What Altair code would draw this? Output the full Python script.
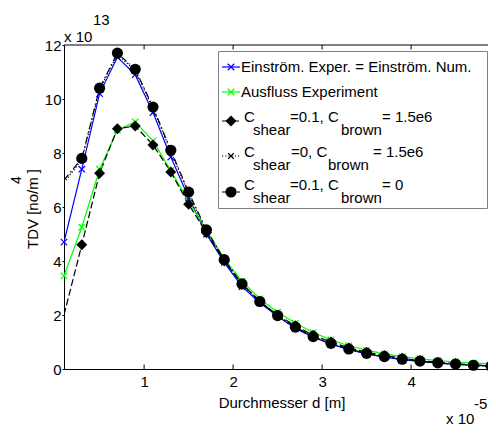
import altair as alt
import pandas as pd

# ---------------- data ----------------
D = [0.1, 0.3, 0.5, 0.7, 0.9, 1.1, 1.3, 1.5, 1.7, 1.9, 2.1, 2.3, 2.5,
     2.7, 2.9, 3.1, 3.3, 3.5, 3.7, 3.9, 4.1, 4.3, 4.5, 4.7, 4.9]

EINSTROEM = [4.7, 7.4, 10.2, 11.55, 10.9, 9.5, 7.85, 6.35, 5.0, 3.95, 3.05, 2.45, 1.95,
             1.5, 1.18, 0.92, 0.72, 0.56, 0.44, 0.35, 0.28, 0.22, 0.17, 0.14, 0.11]
AUSFLUSS = [3.45, 5.25, 7.4, 8.85, 9.15, 8.45, 7.35, 6.2, 5.15, 4.1, 3.25, 2.6, 2.1,
            1.7, 1.35, 1.08, 0.86, 0.7, 0.56, 0.46, 0.38, 0.31, 0.26, 0.22, 0.19]
S01_B15 = [2.0, 4.6, 7.25, 8.9, 9.0, 8.3, 7.3, 6.1, 5.05, 4.0, 3.15, 2.5, 2.0,
           1.6, 1.25, 1.0, 0.78, 0.62, 0.5, 0.4, 0.31, 0.25, 0.2, 0.15, 0.12]
S0_B15 = [6.9, 7.75, 10.35, 11.65, 11.05, 9.65, 8.05, 6.5, 5.1, 4.02, 3.12, 2.48, 1.96,
          1.53, 1.19, 0.94, 0.73, 0.57, 0.45, 0.36, 0.28, 0.22, 0.17, 0.13, 0.1]
S01_B0 = [7.0, 7.8, 10.4, 11.7, 11.1, 9.7, 8.1, 6.55, 5.15, 4.05, 3.15, 2.5, 1.98,
          1.55, 1.2, 0.95, 0.74, 0.58, 0.46, 0.36, 0.29, 0.23, 0.18, 0.14, 0.1]

X_TICKS = [1, 2, 3, 4]
Y_TICKS = [0, 2, 4, 6, 8, 10, 12]

LEG_SIMPLE = ["Einström. Exper. = Einström. Num.", "Ausfluss Experiment"]
LEG_C = ["C", "C", "C"]
LEG_MID = ["=0.1, C", "=0, C", "=0.1, C"]
LEG_END = ["= 1.5e6", "= 1.5e6", "= 0"]
LEG_SUB1 = "shear"
LEG_SUB2 = "brown"

FONT = "Liberation Sans"
FS = 15
W, H = 424, 324
XMAX = 0.1 + W / 89.0

xscale = alt.Scale(domain=[0.1, XMAX], nice=False, zero=False)
yscale = alt.Scale(domain=[0, 12], nice=False, zero=False)

one = pd.DataFrame({"k": [0]})
XPATH = "M-1,-1L1,1M-1,1L1,-1"

x_axis = alt.Axis(values=X_TICKS, format="d", title=None, grid=False, ticks=False,
                  domain=True, domainColor="black", domainWidth=1,
                  labelFont=FONT, labelFontSize=FS, labelColor="black", labelPadding=5)
y_axis = alt.Axis(values=Y_TICKS, format="d", title=None, grid=False, ticks=True,
                  tickSize=2, tickColor="black", domain=True, domainColor="black",
                  domainWidth=1, labelFont=FONT, labelFontSize=FS, labelColor="black",
                  labelPadding=1)


def X():
    return alt.X("d:Q", scale=xscale, axis=x_axis)


def Y():
    return alt.Y("v:Q", scale=yscale, axis=y_axis)


def sdf(vals):
    return pd.DataFrame({"d": D, "v": vals})


layers = []


def line(vals, color, dash=None, width=1.2):
    kw = dict(color=color, strokeWidth=width, clip=True)
    if dash:
        kw["strokeDash"] = dash
    return alt.Chart(sdf(vals)).mark_line(**kw).encode(x=X(), y=Y())


def pts(vals, shape, color, size, filled, start=0, sw=1.2):
    df = sdf(vals).iloc[start:]
    if filled:
        m = alt.Chart(df).mark_point(shape=shape, filled=True, fill=color, color=color,
                                     size=size, opacity=1, clip=False)
    else:
        m = alt.Chart(df).mark_point(shape=shape, filled=False, color=color, size=size,
                                     strokeWidth=sw, opacity=1, clip=False)
    return m.encode(x=X(), y=Y())


# data lines
layers.append(line(EINSTROEM, "#0000ff"))
layers.append(line(AUSFLUSS, "#00ff00"))
layers.append(line(S01_B15, "black", dash=[7, 3]))
layers.append(line(S0_B15, "black", dash=[1.2, 2]))
layers.append(line(S01_B0, "black", dash=[7, 3, 1.5, 3]))
# markers
layers.append(pts(EINSTROEM, XPATH, "#0000ff", 42, False))
layers.append(pts(AUSFLUSS, XPATH, "#00ff00", 42, False))
layers.append(pts(S01_B15, "diamond", "black", 120, True, start=1))
layers.append(pts(S0_B15, XPATH, "black", 30, False, start=1))
layers.append(pts(S01_B0, "circle", "black", 125, True, start=1))

# box: top border and inward ticks
layers.append(alt.Chart(one).mark_rule(color="black", strokeWidth=1).encode(
    x=alt.value(0), x2=alt.value(W), y=alt.value(0)))
xt = pd.DataFrame({"d": X_TICKS})
layers.append(alt.Chart(xt).mark_rule(color="black", strokeWidth=1).encode(
    x=X(), y=alt.value(0), y2=alt.value(4.5)))
layers.append(alt.Chart(xt).mark_rule(color="black", strokeWidth=1).encode(
    x=X(), y=alt.value(H), y2=alt.value(H - 4.5)))


def txt(s, x, y, size=FS, align="left", angle=0, baseline="middle"):
    return alt.Chart(one).mark_text(text=s, align=align, baseline=baseline, fontSize=size,
                                    font=FONT, color="black", angle=angle).encode(
        x=alt.value(x), y=alt.value(y))


# axis titles and exponents
layers.append(txt("TDV [no/m  ]", -31, 164, angle=270, align="center"))
layers.append(txt("4", -47, 135, size=14, angle=270, align="center"))
layers.append(txt("x 10", 0, -8))
layers.append(txt("13", 29, -25))
layers.append(txt("Durchmesser d [m]", 218, 358, align="center"))
layers.append(txt("x 10", 382, 374))
layers.append(txt("-5", 410, 359))

# legend
layers.append(alt.Chart(one).mark_rect(fill="white", stroke="#808080", strokeWidth=1).encode(
    x=alt.value(154.5), x2=alt.value(423.5), y=alt.value(6.5), y2=alt.value(163.5)))

LX1, LX2, LXM = 158, 176, 167
row_y = [22, 47, 76, 111, 147]
text_y = [22, 47, 72, 107, 140]
sub_dy = 13


def leg_line(y, color, dash=None):
    kw = dict(color=color, strokeWidth=1.2)
    if dash:
        kw["strokeDash"] = dash
    return alt.Chart(one).mark_rule(**kw).encode(
        x=alt.value(LX1), x2=alt.value(LX2), y=alt.value(y))


def leg_pt(y, shape, color, size, filled):
    if filled:
        m = alt.Chart(one).mark_point(shape=shape, filled=True, fill=color, color=color,
                                      size=size, opacity=1)
    else:
        m = alt.Chart(one).mark_point(shape=shape, filled=False, color=color, size=size,
                                      strokeWidth=1.2, opacity=1)
    return m.encode(x=alt.value(LXM), y=alt.value(y))


layers.append(leg_line(row_y[0], "#0000ff"))
layers.append(leg_pt(row_y[0], XPATH, "#0000ff", 42, False))
layers.append(leg_line(row_y[1], "#00ff00"))
layers.append(leg_pt(row_y[1], XPATH, "#00ff00", 42, False))
layers.append(leg_line(row_y[2], "black", [7, 3]))
layers.append(leg_pt(row_y[2], "diamond", "black", 120, True))
layers.append(leg_line(row_y[3], "black", [1.2, 2]))
layers.append(leg_pt(row_y[3], XPATH, "black", 30, False))
layers.append(leg_line(row_y[4], "black", [7, 3, 1.5, 3]))
layers.append(leg_pt(row_y[4], "circle", "black", 125, True))

layers.append(txt(LEG_SIMPLE[0], 177, text_y[0]))
layers.append(txt(LEG_SIMPLE[1], 177, text_y[1]))

mid_x = [226, 227, 226]
sub2_x = [277, 264, 277]
end_x = [318, 309, 318]
for i in range(3):
    ty = text_y[2 + i]
    layers.append(txt(LEG_C[i], 180, ty))
    layers.append(txt(LEG_SUB1, 189, ty + sub_dy))
    layers.append(txt(LEG_MID[i], mid_x[i], ty))
    layers.append(txt(LEG_SUB2, sub2_x[i], ty + sub_dy))
    layers.append(txt(LEG_END[i], end_x[i], ty))

chart = alt.layer(*layers).properties(
    width=W, height=H,
    autosize=alt.AutoSizeParams(type="none"),
    padding={"left": 56, "top": 37, "right": 0, "bottom": 60},
    background="white",
).configure_view(stroke=None)

chart.save("out.html", embed_options={"renderer": "svg", "actions": False})
